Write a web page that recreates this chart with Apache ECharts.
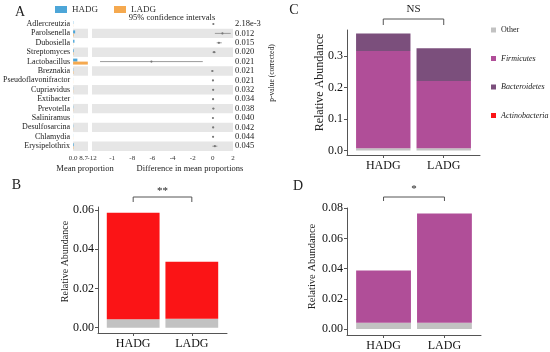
<!DOCTYPE html>
<html>
<head>
<meta charset="utf-8">
<script src="https://cdn.jsdelivr.net/npm/echarts@6/dist/echarts.min.js"></script>
<style>html,body{margin:0;padding:0;background:#fff}#c{width:550px;height:352px}</style>
</head>
<body>
<div id="c"></div>
<script>
// ---------- Panel A data ----------
var genera = ['Adlercreutzia','Parolsenella','Dubosiella','Streptomyces','Lactobacillus','Breznakia','Pseudoflavonifractor','Cupriavidus','Extibacter','Prevotella','Saliniramus','Desulfosarcina','Chlamydia','Erysipelothrix'];
var pvals = ['2.18e-3','0.012','0.015','0.020','0.021','0.021','0.021','0.032','0.034','0.038','0.040','0.042','0.044','0.045'];
var hadgMean = [0.15, 1.2, 0.8, 0.4, 2.5, 0.15, 0.05, 0.1, 0.05, 0.15, 0.05, 0.15, 0.05, 0.4];
var ladgMean = [0.05, 0.3, 0.1, 0.2, 8.6, 0.2, 0.05, 0.1, 0.05, 0.1, 0.05, 0.1, 0.05, 0.2];
var diffMean = [0.05, 0.95, 0.6, 0.12, -6.1, -0.05, 0.01, 0.03, 0.02, 0.05, 0.01, 0.03, 0.02, 0.2];
var diffLow  = [0.02, 0.2, 0.38, -0.05, -11.2, -0.15, 0.0, -0.02, -0.03, -0.05, -0.01, -0.05, 0.0, -0.05];
var diffHigh = [0.09, 1.77, 0.88, 0.3, -1.0, 0.05, 0.02, 0.08, 0.07, 0.15, 0.03, 0.1, 0.04, 0.45];
var meanTicks = [0, 8.7];
var diffTicks = [-12, -10, -8, -6, -4, -2, 0, 2];
var diffTickLabels = ['-12', '-1', '-8', '-6', '-4', '-2', '0', '2'];

// ---------- Panels B, C, D data ----------
var groups = ['HADG', 'LADG'];
var bOther = [0.0043, 0.0046];
var bActino = [0.0544, 0.0291];
var bTicks = [0, 0.02, 0.04, 0.06];

var cOther = [0.007, 0.007];
var cActino = [0, 0];
var cFirm = [0.310, 0.214];
var cBact = [0.056, 0.105];
var cTicks = [0, 0.1, 0.2, 0.3];

var dOther = [0.0042, 0.0042];
var dFirm = [0.0345, 0.0723];
var dTicks = [0, 0.02, 0.04, 0.06, 0.08];

var FONT = 'Liberation Serif';
var C_HADG = '#4da6d8', C_LADG = '#f5a94f';
var C_OTHER = '#c2c2c2', C_FIRM = '#b04e98', C_BACT = '#7b4f7c', C_ACT = '#fb1416';

// outer (axis) grids for B, C, D; discrete axis spans 0.4..2.6 like ggplot
var boxes = [
  {left:98, top:207, width:129, height:126, min:-0.0027, max:0.0616, ticks:bTicks, dec:2},
  {left:347, top:30, width:133, height:125, min:-0.0143, max:0.3838, ticks:cTicks, dec:1},
  {left:347, top:208, width:134, height:127, min:-0.004, max:0.0802, ticks:dTicks, dec:2}
];
function innerGrid(b){ var u = b.width/2.2; return {left:b.left + 0.1*u, top:b.top, width:2*u, height:b.height}; }

function outerX(grid){
  return {
    type:'value', gridIndex:grid, min:0.4, max:2.6,
    axisLine:{show:true, onZero:false, lineStyle:{color:'#555', width:1}},
    axisTick:{show:true, length:3, customValues:[1,2], lineStyle:{color:'#555'}},
    axisLabel:{customValues:[1,2], formatter:function(v){ return groups[Math.round(v)-1]; }, fontFamily:FONT, fontSize:12, color:'#111', margin:5},
    splitLine:{show:false}
  };
}
function outerY(grid, b){
  return {
    type:'value', gridIndex:grid, min:b.min, max:b.max,
    axisLine:{show:true, lineStyle:{color:'#555', width:1}},
    axisTick:{show:true, length:3, customValues:b.ticks, lineStyle:{color:'#555'}},
    axisLabel:{customValues:b.ticks, formatter:function(v){ return v.toFixed(b.dec); }, fontFamily:FONT, fontSize:12, color:'#111', margin:4},
    splitLine:{show:false}
  };
}
function innerX(grid){ return {type:'category', gridIndex:grid, data:groups, show:false, boundaryGap:true}; }
function innerY(grid, b){ return {type:'value', gridIndex:grid, min:b.min, max:b.max, show:false, splitLine:{show:false}}; }
function stackBar(name, data, idx, stack, color){
  return {type:'bar', name:name, xAxisIndex:idx, yAxisIndex:idx, stack:stack, data:data, barWidth:'90%',
          itemStyle:{color:color}, silent:true};
}

var chart = echarts.init(document.getElementById('c'), null, {renderer:'canvas'});
var option = {
  animation:false,
  textStyle:{fontFamily:FONT},
  legend:[
    {data:['HADG','LADG'], left:50, top:0, itemWidth:12, itemHeight:7, itemGap:16, icon:'rect',
     textStyle:{fontFamily:FONT, fontSize:9, color:'#333'}, selectedMode:false},
    {data:['Other','Firmicutes','Bacteroidetes','Actinobacteria'], orient:'vertical', left:486, top:21,
     itemWidth:5, itemHeight:5, itemGap:20.5, icon:'rect', selectedMode:false,
     formatter:function(n){ return n==='Other' ? n : '{i|'+n+'}'; },
     textStyle:{fontFamily:FONT, fontSize:8, color:'#222', rich:{i:{fontStyle:'italic', fontFamily:FONT, fontSize:8, color:'#222'}}}}
  ],
  grid:[
    {left:73, top:19.3, width:15, height:131.6},
    {left:92, top:19.3, width:141, height:131.6},
    boxes[0], boxes[1], boxes[2],
    innerGrid(boxes[0]), innerGrid(boxes[1]), innerGrid(boxes[2])
  ].map(function(g){ return {left:g.left, top:g.top, width:g.width, height:g.height}; }),
  xAxis:[
    {type:'value', gridIndex:0, min:0, max:8.7, axisLine:{show:false}, axisTick:{show:false}, splitLine:{show:false},
     axisLabel:{customValues:meanTicks, alignMaxLabel:'right', formatter:function(v){ return v.toFixed(1); }, fontFamily:FONT, fontSize:7, color:'#333', margin:4}},
    {type:'value', gridIndex:1, min:-12, max:2, axisLine:{show:false}, axisTick:{show:false}, splitLine:{show:false},
     axisLabel:{customValues:diffTicks, formatter:function(v){ var k = diffTicks.indexOf(Math.round(v)); return k>=0 ? diffTickLabels[k] : ''; }, fontFamily:FONT, fontSize:7, color:'#333', margin:4}},
    outerX(2), outerX(3), outerX(4),
    innerX(5), innerX(6), innerX(7)
  ],
  yAxis:[
    {type:'category', gridIndex:0, data:genera, inverse:true, axisLine:{show:false}, axisTick:{show:false},
     axisLabel:{interval:0, fontFamily:FONT, fontSize:8, color:'#222', margin:3},
     splitArea:{show:true, interval:0, areaStyle:{color:['rgba(0,0,0,0)','#e6e6e6']}}},
    {type:'category', gridIndex:1, data:genera, inverse:true, position:'right', axisLine:{show:false}, axisTick:{show:false},
     axisLabel:{interval:0, formatter:function(v, i){ return pvals[i]; }, fontFamily:FONT, fontSize:8.5, color:'#222', margin:2},
     splitArea:{show:true, interval:0, areaStyle:{color:['rgba(0,0,0,0)','#e6e6e6']}}},
    outerY(2, boxes[0]), outerY(3, boxes[1]), outerY(4, boxes[2]),
    innerY(5, boxes[0]), innerY(6, boxes[1]), innerY(7, boxes[2])
  ],
  series:[
    {type:'bar', name:'HADG', xAxisIndex:0, yAxisIndex:0, data:hadgMean, barWidth:3, barGap:'0%', itemStyle:{color:C_HADG}, silent:true},
    {type:'bar', name:'LADG', xAxisIndex:0, yAxisIndex:0, data:ladgMean, barWidth:3, barGap:'0%', itemStyle:{color:C_LADG}, silent:true},
    {type:'custom', name:'CI', xAxisIndex:1, yAxisIndex:1, silent:true,
     data:genera.map(function(g,i){ return [diffMean[i], i, diffLow[i], diffHigh[i]]; }),
     encode:{x:[0,2,3], y:1},
     renderItem:function(params, api){
       var y = api.value(1);
       var p1 = api.coord([api.value(2), y]);
       var p2 = api.coord([api.value(3), y]);
       var pm = api.coord([api.value(0), y]);
       return {type:'group', children:[
         {type:'line', shape:{x1:p1[0], y1:p1[1], x2:p2[0], y2:p2[1]}, style:{stroke:'#9a9a9a', lineWidth:1}},
         {type:'circle', shape:{cx:pm[0], cy:pm[1], r:1.1}, style:{fill:'#777'}}
       ]};
     }},
    stackBar('Other', bOther, 5, 'b', C_OTHER),
    stackBar('Actinobacteria', bActino, 5, 'b', C_ACT),
    stackBar('Other', cOther, 6, 'c', C_OTHER),
    stackBar('Actinobacteria', cActino, 6, 'c', C_ACT),
    stackBar('Firmicutes', cFirm, 6, 'c', C_FIRM),
    stackBar('Bacteroidetes', cBact, 6, 'c', C_BACT),
    stackBar('Other', dOther, 7, 'd', C_OTHER),
    stackBar('Firmicutes', dFirm, 7, 'd', C_FIRM)
  ]
};
chart.setOption(option);

// annotations: panel letters, axis titles and significance brackets
function px(xi, v){ return chart.convertToPixel({xAxisIndex:xi}, v); }
function txt(x, y, s, size, extra){
  var st = {text:s, x:0, y:0, fontFamily:FONT, fontSize:size, fill:'#222', textAlign:'center', textVerticalAlign:'middle'};
  return Object.assign({type:'text', x:x, y:y, silent:true, style:st}, extra || {});
}
function bracket(xi, yTop, yLeg){
  var a = px(xi, 1), b = px(xi, 2);
  return {type:'polyline', silent:true, shape:{points:[[a, yLeg], [a, yTop], [b, yTop], [b, yLeg]]},
          style:{stroke:'#555', lineWidth:1, fill:null}};
}
var ROT = {rotation:Math.PI/2};
chart.setOption({graphic:[
  txt(20, 12.5, 'A', 14),
  txt(16.5, 185.5, 'B', 14),
  txt(294, 10, 'C', 14),
  txt(298, 186, 'D', 14),
  txt(172, 18, '95% confidence intervals', 8.5),
  txt(85, 169, 'Mean proportion', 8.5),
  txt(190, 169, 'Difference in mean proportions', 8.5),
  txt(272, 73, 'p-value (corrected)', 7.5, ROT),
  txt(65, 261.5, 'Relative Abundance', 10, ROT),
  txt(320, 82.5, 'Relative Abundance', 12, ROT),
  txt(312, 266.5, 'Relative Abundance', 10.5, ROT),
  txt((px(3,1)+px(3,2))/2, 9, 'NS', 11),
  txt((px(2,1)+px(2,2))/2, 191, '**', 11),
  txt((px(4,1)+px(4,2))/2, 189, '*', 11),
  bracket(3, 19, 25),
  bracket(2, 197, 202),
  bracket(4, 197, 201)
]});
</script>
</body>
</html>
